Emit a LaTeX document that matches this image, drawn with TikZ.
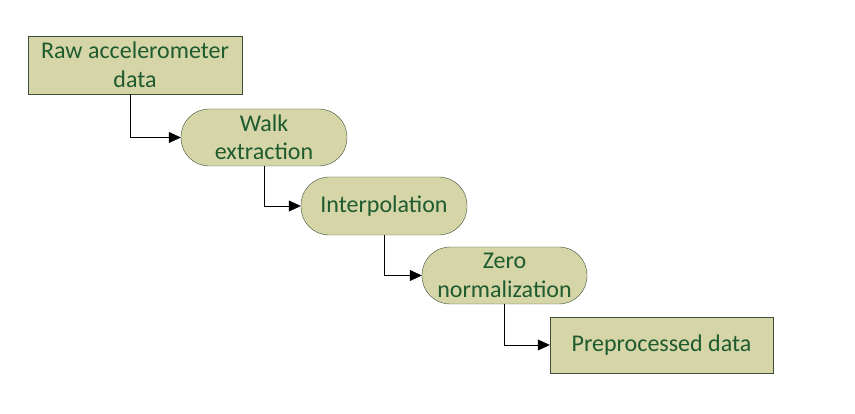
\documentclass[tikz,border=0pt]{standalone}
\usepackage{fontspec}
\setmainfont{Carlito}
\usetikzlibrary{arrows.meta}
\definecolor{boxfill}{HTML}{D5D5A8}
\definecolor{boxline}{HTML}{3F4F3A}
\definecolor{boxtext}{HTML}{1E5B2E}

\begin{document}
\begin{tikzpicture}[x=1pt,y=-1pt]
  \useasboundingbox (0,0) rectangle (855,414);
  \node[draw=boxline,fill=boxfill,text=boxtext,align=center,font=\fontsize{24}{28.5}\selectfont,minimum width=214pt,minimum height=58pt,inner sep=0pt] (raw) at (135,65) {Raw accelerometer\\data};
  \node[draw=boxline,fill=boxfill,text=boxtext,align=center,font=\fontsize{24}{28.5}\selectfont,minimum width=166pt,minimum height=57pt,inner sep=0pt,rounded corners=28pt] (walk) at (264,137.5) {Walk\\extraction};
  \node[draw=boxline,fill=boxfill,text=boxtext,align=center,font=\fontsize{24}{28.5}\selectfont,minimum width=166pt,minimum height=58pt,inner sep=0pt,rounded corners=28pt] (interp) at (384,206) {Interpolation};
  \node[draw=boxline,fill=boxfill,text=boxtext,align=center,font=\fontsize{24}{28.5}\selectfont,minimum width=165pt,minimum height=57pt,inner sep=0pt,rounded corners=28pt] (zero) at (504.5,275.5) {Zero\\normalization};
  \node[draw=boxline,fill=boxfill,text=boxtext,align=center,font=\fontsize{24}{28.5}\selectfont,minimum width=223pt,minimum height=56pt,inner sep=0pt] (prep) at (661.5,345) {Preprocessed data};
  \draw[-{Triangle[length=12pt,width=11pt]}] ([xshift=-5pt]raw.south) |- (walk.west);
  \draw[-{Triangle[length=12pt,width=11pt]}] (walk.south) |- (interp.west);
  \draw[-{Triangle[length=12pt,width=11pt]}] (interp.south) |- (zero.west);
  \draw[-{Triangle[length=12pt,width=11pt]}] (zero.south) |- (prep.west);
\end{tikzpicture}
\end{document}
